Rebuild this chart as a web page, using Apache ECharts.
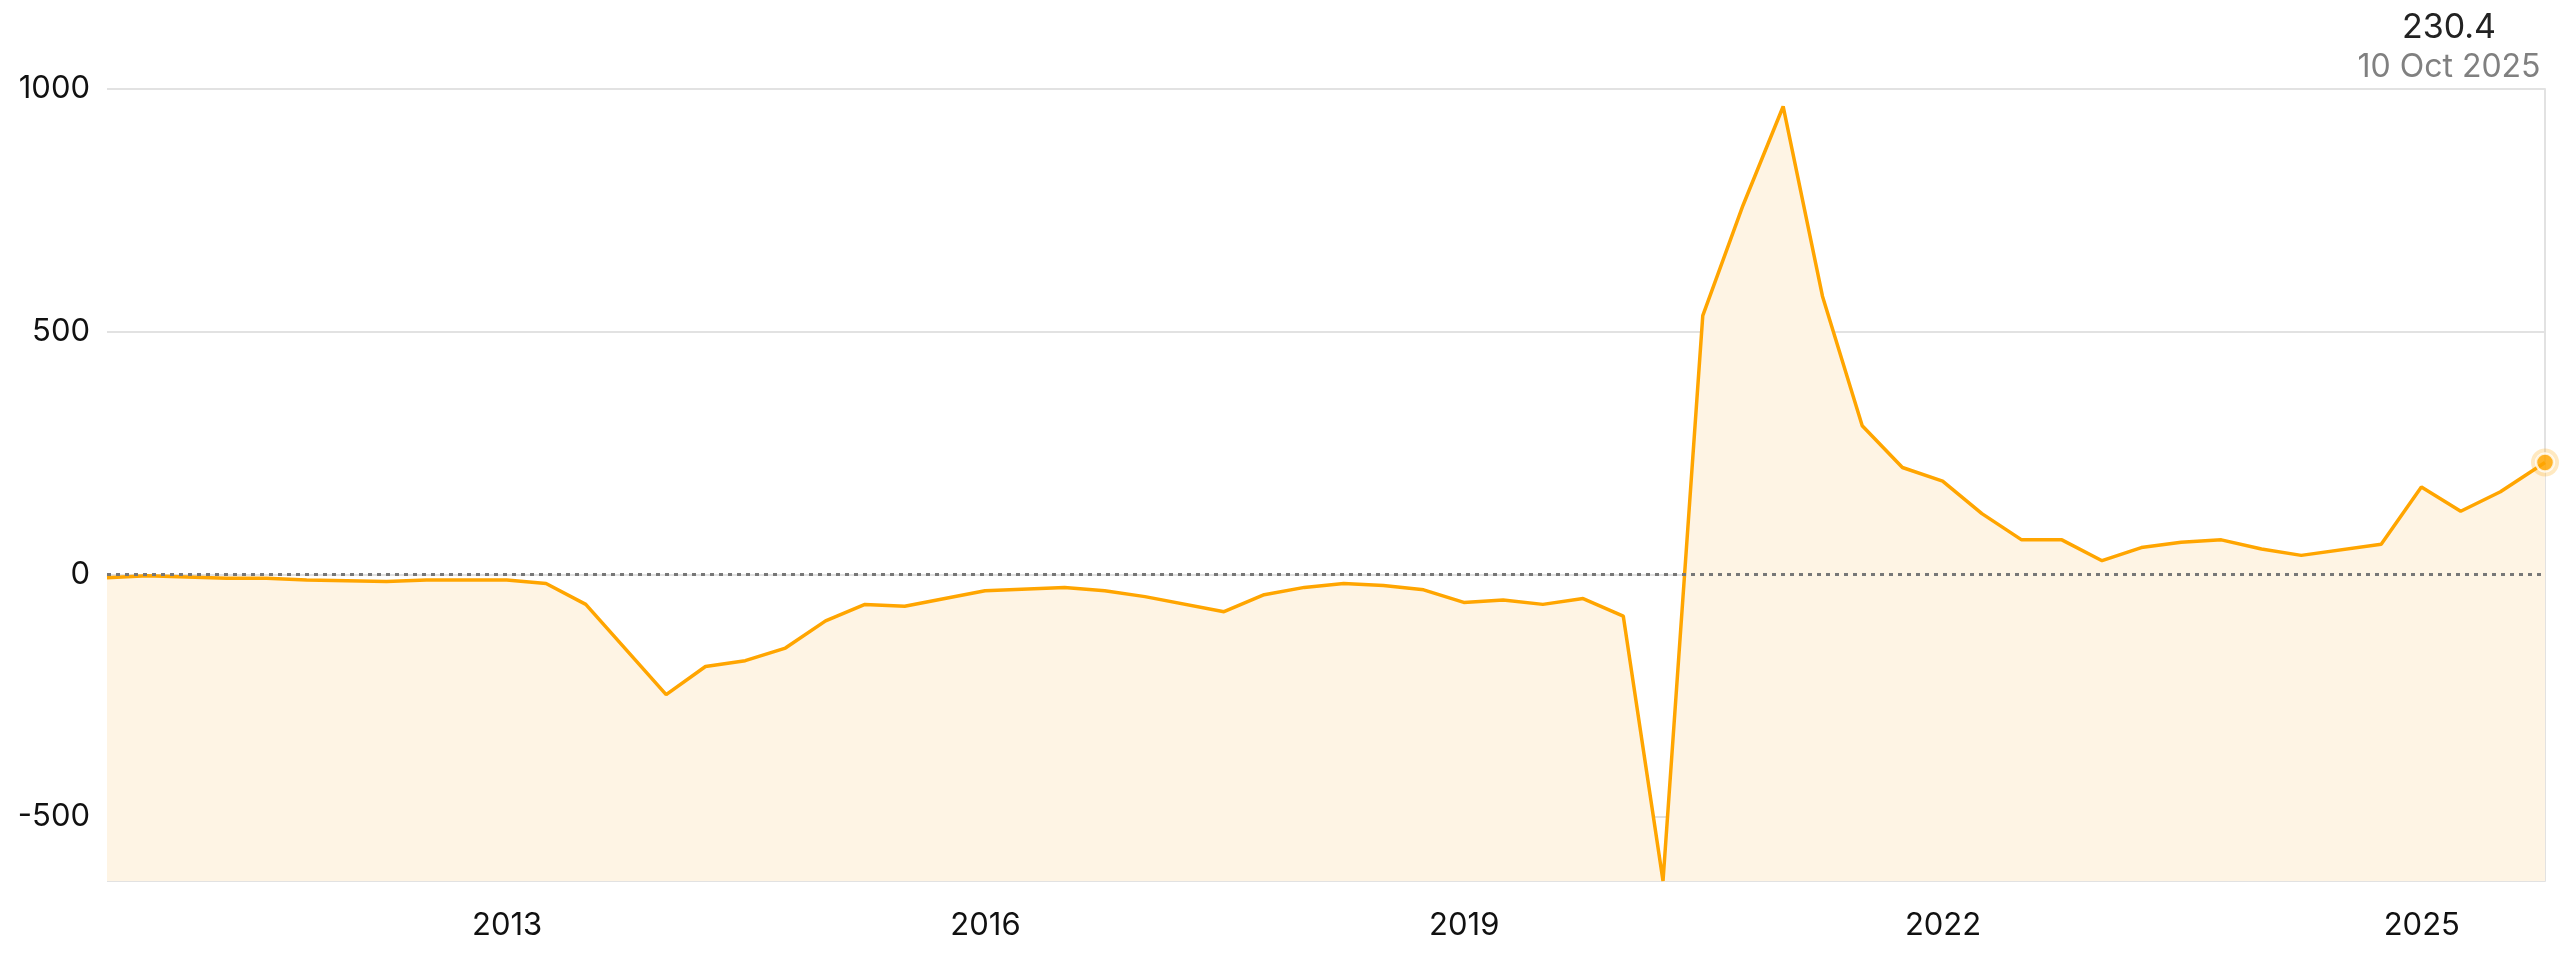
<!DOCTYPE html>
<html>
<head>
<meta charset="utf-8">
<script src="https://cdn.jsdelivr.net/npm/echarts@6/dist/echarts.min.js"></script>
<style>
  html, body { margin: 0; padding: 0; background: #ffffff; }
  #chart { width: 2560px; height: 953px; }
</style>
</head>
<body>
<div id="chart"></div>
<script>
// ---- data ----
const dates = [
  '2010-06-30','2010-09-30','2011-03-31','2011-06-30','2011-09-30','2012-03-31','2012-06-30','2012-12-31',
  '2013-03-31','2013-06-30','2013-12-31','2014-03-31','2014-06-30','2014-09-30','2014-12-31',
  '2015-03-31','2015-06-30','2015-12-31','2016-06-30','2016-09-30','2016-12-31',
  '2017-06-30','2017-09-30','2017-12-31','2018-03-31','2018-06-30','2018-09-30','2018-12-31',
  '2019-03-31','2019-06-30','2019-09-30','2019-12-31','2020-03-31','2020-06-30','2020-09-30','2020-12-31',
  '2021-03-31','2021-06-30','2021-09-30','2021-12-31','2022-03-31','2022-06-30','2022-09-30','2022-12-31',
  '2023-03-31','2023-06-30','2023-09-30','2023-12-31','2024-03-31','2024-09-30','2024-12-31',
  '2025-03-31','2025-06-30','2025-10-10'
];
const values = [
  -7, -3, -8, -8, -12, -15, -12, -12,
  -19, -62, -248, -190, -178, -152, -96,
  -62, -66, -34, -27, -34, -46,
  -77, -42, -27, -19, -23, -32, -58,
  -53, -62, -50, -86, -632, 533, 760, 964,
  573, 306, 220, 192, 125, 71, 71, 28,
  55, 66, 71, 52, 39, 62, 180,
  130, 170, 230.4
];
const xLabelYears = [2013, 2016, 2019, 2022, 2025];
const yMax = 1000;
const referenceLevel = 0;
const lastValueLabel = '230.4';
const lastDateLabel = '10 Oct 2025';

// ---- chart ----
const ts = s => Date.parse(s + 'T00:00:00Z');
const seriesData = dates.map((d, i) => [ts(d), values[i]]);
const lastPoint = seriesData[seriesData.length - 1];
const FONT = 'Inter, "Noto Sans", sans-serif';

const chart = echarts.init(document.getElementById('chart'), null, { renderer: 'canvas' });
chart.setOption({
  animation: false,
  backgroundColor: '#ffffff',
  grid: { left: 107, right: 15, top: 89, bottom: 72, containLabel: false },
  xAxis: {
    type: 'value',
    min: ts(dates[0]),
    max: ts(dates[dates.length - 1]),
    axisLine: { show: false },
    axisTick: { show: false },
    splitLine: { show: false },
    axisLabel: {
      customValues: xLabelYears.map(y => Date.UTC(y, 0, 1)),
      formatter: v => String(new Date(v).getUTCFullYear()),
      color: '#111111',
      fontFamily: FONT,
      fontSize: 31,
      margin: 29
    }
  },
  yAxis: [{
    type: 'value',
    min: e => e.min,
    max: yMax,
    splitNumber: 4,
    axisLine: { show: false },
    axisTick: { show: false },
    splitLine: { show: true, lineStyle: { color: '#e2e2e2', width: 2 } },
    axisLabel: {
      showMinLabel: false,
      formatter: v => String(v),
      color: '#111111',
      fontFamily: FONT,
      fontSize: 31,
      margin: 17
    }
  }, {
    type: 'value',
    position: 'right',
    min: e => e.min,
    max: yMax,
    axisLine: { show: true, lineStyle: { color: '#e2e2e2', width: 2 } },
    axisTick: { show: false },
    axisLabel: { show: false },
    splitLine: { show: false }
  }],
  series: [{
    type: 'line',
    data: seriesData,
    symbol: 'none',
    lineStyle: { color: '#FFA500', width: 3.5 },
    areaStyle: { color: '#FEF4E4', opacity: 1, origin: 'start' },
    z: 2,
    markLine: {
      silent: true,
      symbol: 'none',
      label: { show: false },
      lineStyle: { color: '#777777', type: [4, 5], width: 3 },
      data: [{ yAxis: referenceLevel }],
      z: 5
    }
  }, {
    type: 'scatter',
    data: [lastPoint],
    symbolSize: 28,
    itemStyle: { color: 'rgba(255,165,0,0.3)' },
    z: 6
  }, {
    type: 'scatter',
    data: [lastPoint],
    symbolSize: 18,
    itemStyle: { color: '#FFA500', borderColor: '#ffffff', borderWidth: 2.5 },
    z: 7
  }],
  graphic: [{
    type: 'text',
    x: 2449, y: 28,
    style: {
      text: lastValueLabel, textAlign: 'center', textVerticalAlign: 'middle',
      fill: '#222222', font: '34px ' + FONT
    }
  }, {
    type: 'text',
    x: 2449, y: 67,
    style: {
      text: lastDateLabel, textAlign: 'center', textVerticalAlign: 'middle',
      fill: '#808080', font: '32px ' + FONT
    }
  }]
});
</script>
</body>
</html>
